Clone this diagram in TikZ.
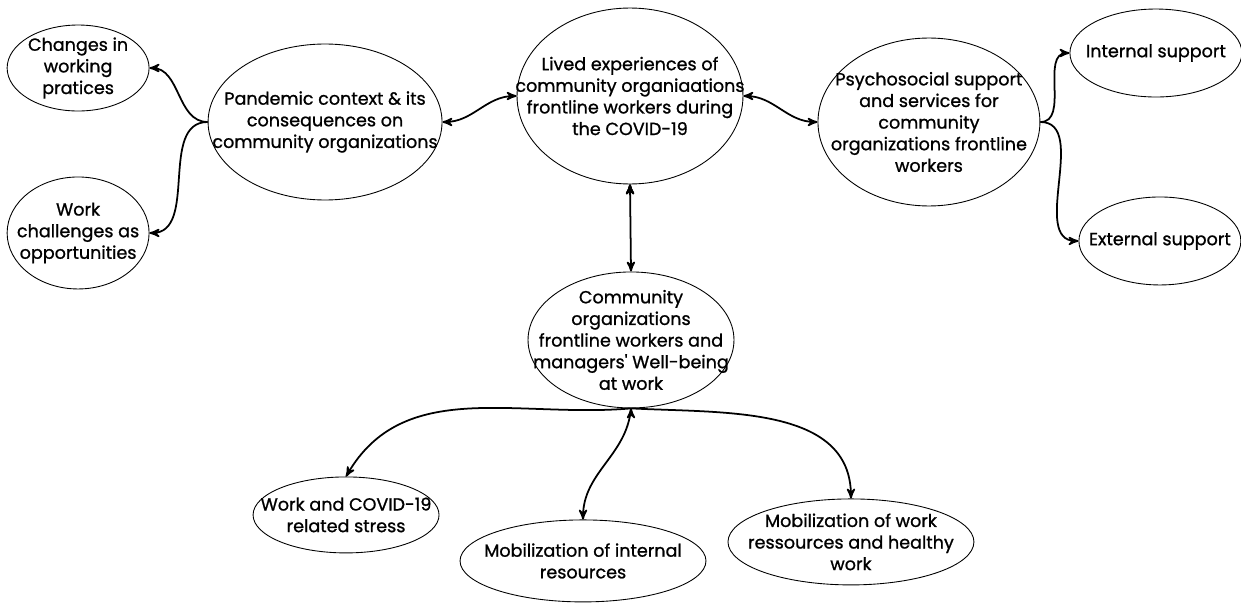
\documentclass[tikz,border=0pt]{standalone}
\usepackage{fontspec}
\newfontfamily\mapfont{Poppins}[FakeBold=1.0]
\usepackage{tikz}
\usetikzlibrary{shapes.geometric, positioning, arrows}
\tikzset{
>=stealth', % small bold arrow heads
topic/.style={draw, ellipse, line width=0.5pt, inner sep=0pt}, % every bubble of the map
link/.style={line width=1pt}, % the connecting curves
every label/.style={align=center, inner sep=0pt, font=\mapfont\fontsize{10pt}{12.3pt}\selectfont}, % text inside the bubbles
}

\begin{document}
\begin{tikzpicture}[x=0.02cm, y=-0.02cm]
\useasboundingbox (0,0) rectangle (1241,602);
                % central theme
                \node[topic, minimum width=4.52cm, minimum height=3.52cm,
                  label={center:Lived experiences of\\community organiaations\\frontline workers during\\the COVID-19}] (lived) at (630,96) {};
                \node[topic, left of=lived, node distance=6.1cm, yshift=-0.52cm, minimum width=4.68cm, minimum height=3.12cm,
                  label={center:Pandemic context \& its\\consequences on\\community organizations}] (pand) {};
                \node[topic, right of=lived, node distance=5.98cm, yshift=-0.52cm, minimum width=4.44cm, minimum height=3.36cm,
                  label={center:Psychosocial support\\and services for\\community\\organizations frontline\\workers}] (psych) {};
                \node[topic, below of=lived, node distance=4.88cm, xshift=0.02cm, minimum width=4.12cm, minimum height=2.72cm,
                  label={center:Community\\organizations\\frontline workers and\\managers' Well-being\\at work}] (comm) {};
                % sub-themes
                \node[topic, left of=pand, node distance=4.94cm, yshift=1.08cm, minimum width=2.84cm, minimum height=1.72cm,
                  label={center:Changes in\\working\\pratices}] (changes) {};
                \node[topic, left of=pand, node distance=4.94cm, yshift=-2.22cm, minimum width=2.84cm, minimum height=2.24cm,
                  label={center:Work\\challenges as\\opportunities}] (chall) {};
                \node[topic, right of=psych, node distance=4.54cm, yshift=1.38cm, minimum width=3.44cm, minimum height=1.76cm,
                  label={center:Internal support}] (intsup) {};
                \node[topic, right of=psych, node distance=4.62cm, yshift=-2.38cm, minimum width=3.24cm, minimum height=1.76cm,
                  label={center:External support}] (extsup) {};
                \node[topic, below of=comm, node distance=3.5cm, xshift=-5.7cm, minimum width=3.72cm, minimum height=1.52cm,
                  label={center:Work and COVID-19\\related stress}] (stress) {};
                \node[topic, below of=comm, node distance=4.42cm, xshift=-0.96cm, minimum width=4.92cm, minimum height=1.64cm,
                  label={center:Mobilization of internal\\resources}] (intres) {};
                \node[topic, below of=comm, node distance=4.04cm, xshift=4.4cm, minimum width=4.92cm, minimum height=1.72cm,
                  label={center:Mobilization of work\\ressources and healthy\\work}] (healthy) {};
                \draw[link, <->]
                    (pand.east) edge[out=0, in=180] (lived.west)
                    (lived.east) edge[out=0, in=180] (psych.west)
                    (lived.south) edge (comm.north)
                    ;
                \draw[link, ->]
                    (pand.west) edge[out=180, in=0] (changes.east)
                    (pand.west) edge[out=180, in=0] (chall.east)
                    (psych.east) edge[out=0, in=180] (intsup.west)
                    (psych.east) edge[out=0, in=180] (extsup.west)
                    (comm.south) edge[out=185, in=60] (stress.north)
                    (comm.south) edge[out=-95, in=90] (intres.north)
                    (comm.south) edge[out=-3, in=90] (healthy.north)
                    ;
\end{tikzpicture}
\end{document}
